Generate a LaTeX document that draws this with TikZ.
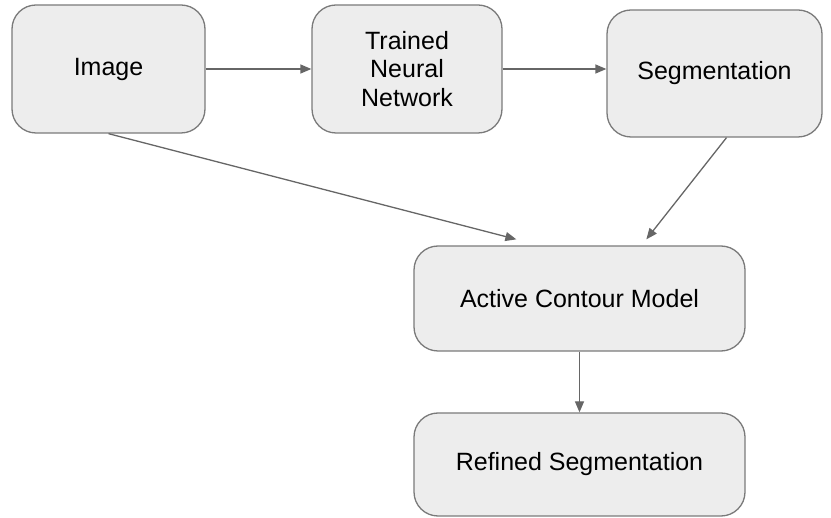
\documentclass[tikz,border=0pt]{standalone}
\usepackage{fontspec}
\setmainfont{Liberation Sans}
\usetikzlibrary{arrows.meta,calc}
\definecolor{boxfill}{HTML}{EDEDED}
\definecolor{boxline}{HTML}{7A7A7A}
\definecolor{linkcol}{HTML}{666666}
\tikzset{
  stagebox/.style={draw=boxline, fill=boxfill, line width=1.3pt,
    rounded corners=24pt, align=center, inner sep=0pt,
    font=\fontsize{25}{28.5}\selectfont, text=black},
  link/.style={draw=linkcol, line width=1.3pt,
    -{Triangle[length=11pt,width=9pt]}},
}
\begin{document}
\begin{tikzpicture}[x=1pt,y=-1pt]
  \useasboundingbox (0,0) rectangle (831,518);

  \node[stagebox, minimum width=193pt, minimum height=128pt] (img) at (108.5,69) {Image};
  \node[stagebox, minimum width=190pt, minimum height=128pt] (tnn) at (407,69) {Trained\\Neural\\Network};
  \node[stagebox, minimum width=215pt, minimum height=127pt] (seg) at (714.5,73.5) {Segmentation};
  \node[stagebox, minimum width=331pt, minimum height=105pt] (acm) at (579.5,298.5) {Active Contour Model};
  \node[stagebox, minimum width=331pt, minimum height=103pt] (ref) at (579.5,464.5) {Refined Segmentation};

  % end points of the two slanted links, just above the model box
  \coordinate (imgEnd) at ($(acm.north west)+(103,-6)$);
  \coordinate (segStart) at ($(seg.south)+(12,0)$);
  \coordinate (segEnd) at ($(acm.north west)+(233,-6)$);

  \draw[link] (img.east) -- (tnn.west);
  \draw[link] (tnn.east) -- (seg.west |- tnn.east);
  \draw[link] (img.south) -- (imgEnd);
  \draw[link] (segStart) -- (segEnd);
  \draw[link] (acm.south) -- (ref.north);
\end{tikzpicture}
\end{document}
